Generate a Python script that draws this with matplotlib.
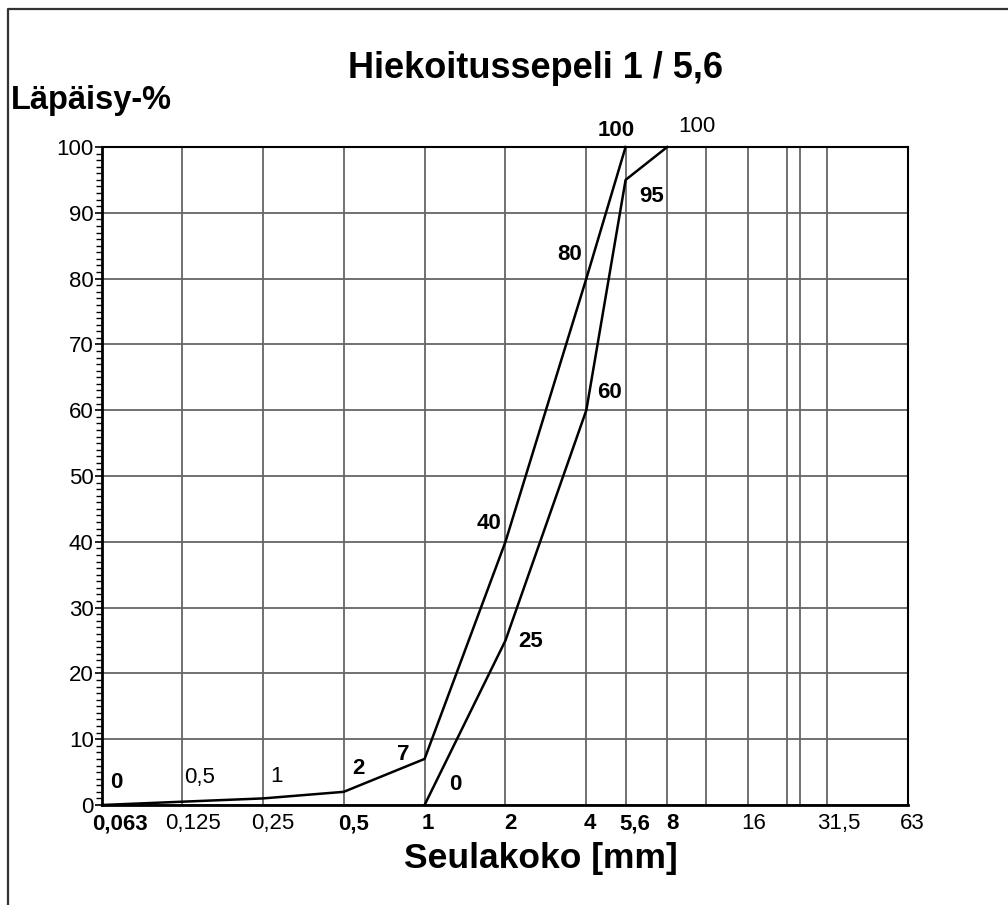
import matplotlib
matplotlib.use("Agg")
import matplotlib.pyplot as plt
from matplotlib.lines import Line2D
from matplotlib.ticker import FixedLocator, NullFormatter
from matplotlib.transforms import ScaledTranslation

plt.rcParams['font.family'] = ['Liberation Sans', 'DejaVu Sans']

# sieve sizes (mm) and passing percentages
sieves = [0.063, 0.125, 0.25, 0.5, 1, 2, 4, 5.6, 8, 16, 31.5, 63]
sieve_labels = ["0,063", "0,125", "0,25", "0,5", "1", "2", "4", "5,6", "8", "16", "31,5", "63"]
sieve_bold = [True, False, False, True, True, True, True, True, True, False, False, False]
extra_sieves = [11.2, 22.4, 25]

upper_x = [0.063, 0.125, 0.25, 0.5, 1, 2, 4, 5.6]
upper_y = [0, 0.5, 1, 2, 7, 40, 80, 100]
lower_x = [1, 2, 4, 5.6, 8]
lower_y = [0, 25, 60, 95, 100]

# point labels: x, y, text, bold
point_labels = [
    (0.063, 0, "0", True),
    (0.125, 0.5, "0,5", False),
    (0.25, 1, "1", False),
    (0.5, 2, "2", True),
    (1, 7, "7", True),
    (1, 0, "0", True),
    (2, 40, "40", True),
    (2, 25, "25", True),
    (4, 80, "80", True),
    (4, 60, "60", True),
    (5.6, 95, "95", True),
    (5.6, 100, "100", True),
    (8, 100, "100", False),
]
# label offsets in pixels (dx, dy up)
label_offsets = [(14, 23), (18, 24), (14, 22), (15, 23), (-21, 4), (31, 21),
                 (-16, 18), (25, -1), (-17, 24), (23, 18), (26, -17), (-9, 17), (30, 21)]
# horizontal shift of the x tick labels, pixels
tick_shift = [18, 11, 10, 10, 3, 5, 3, 9, 5, 6, 12, 4]

fig = plt.figure(figsize=(10.08, 9.05), dpi=100)
ax = fig.add_axes([102 / 1008, 1 - 805 / 905, 806 / 1008, 658 / 905])

ax.set_xscale('log')
ax.set_xlim(0.063, 63)
ax.set_ylim(0, 100)

ax.xaxis.set_major_locator(FixedLocator(sieves))
ax.xaxis.set_minor_locator(FixedLocator(extra_sieves))
ax.xaxis.set_minor_formatter(NullFormatter())
ax.tick_params(axis='x', which='both', length=0, pad=6, labelsize=16)
ax.set_xticklabels(sieve_labels)
for lab, b, dx in zip(ax.get_xticklabels(), sieve_bold, tick_shift):
    lab.set_fontweight('bold' if b else 'normal')
    lab.set_transform(lab.get_transform() + ScaledTranslation(dx / 100, 0, fig.dpi_scale_trans))

ax.set_yticks(range(0, 101, 10))
ax.yaxis.set_minor_locator(FixedLocator(range(0, 101, 1)))
ax.tick_params(axis='y', which='major', length=5, width=1.2, pad=1, labelsize=16)
ax.tick_params(axis='y', which='minor', length=4, width=1.0)

ax.grid(True, which='major', axis='both', color='#666666', lw=1.3)
ax.grid(True, which='minor', axis='x', color='#666666', lw=1.3)
ax.set_axisbelow(True)

for s in ax.spines.values():
    s.set_color('black')
    s.set_linewidth(1.5)
ax.spines['left'].set_linewidth(2)
ax.spines['bottom'].set_linewidth(2)

ax.plot(upper_x, upper_y, color='black', lw=1.8, clip_on=False, zorder=3)
ax.plot(lower_x, lower_y, color='black', lw=1.8, clip_on=False, zorder=3)

for (x, y, t, b), (dx, dy) in zip(point_labels, label_offsets):
    ax.annotate(t, (x, y), xytext=(dx * 0.72, dy * 0.72), textcoords='offset points',
                ha='center', va='center', fontsize=16,
                fontweight='bold' if b else 'normal', annotation_clip=False)

fig.text(536 / 1008, 1 - 68 / 905, "Hiekoitussepeli 1 / 5,6", ha='center', va='center',
         fontsize=26, fontweight='bold')
fig.text(11 / 1008, 1 - 100 / 905, "Läpäisy-%", ha='left', va='center',
         fontsize=23.5, fontweight='bold')
fig.text(541 / 1008, 1 - 858 / 905, "Seulakoko [mm]", ha='center', va='center',
         fontsize=25.5, fontweight='bold')

# outer frame
fig.add_artist(Line2D([8 / 1008, 8 / 1008, 1.01], [-0.01, 1 - 9 / 905, 1 - 9 / 905],
                      transform=fig.transFigure, color='#333333', lw=1.6))

fig.savefig('out.png', dpi=100)
